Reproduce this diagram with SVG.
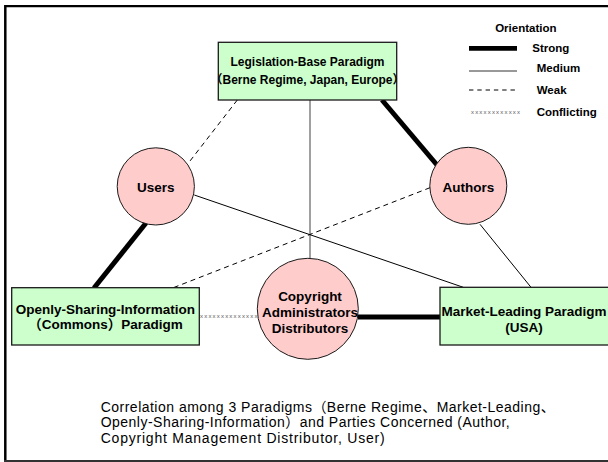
<svg xmlns="http://www.w3.org/2000/svg" width="608" height="462" viewBox="0 0 608 462">
  <style>
    text { font-family: "Liberation Sans", "Noto Sans CJK JP", Arial, sans-serif; fill: #000; }
    .lbl { font-weight: bold; font-size: 13.5px; text-anchor: middle; }
    .lbl12 { font-weight: bold; font-size: 12px; text-anchor: middle; }
    .leg { font-weight: bold; font-size: 11.5px; }
    .cap { font-size: 14px; }
    .xx { font-size: 6px; fill: #5a5a5a; }
    .box { fill: #CCFFCC; stroke: #1a1a1a; stroke-width: 1.3; }
    .party { fill: #FFCCCC; stroke: #1a1a1a; stroke-width: 1; }
    .strong { stroke: #000; stroke-width: 5; fill: none; }
    .medium { stroke: #000; stroke-width: 1; fill: none; }
    .weak { stroke: #000; stroke-width: 1; stroke-dasharray: 5 4; fill: none; }
    .vert { stroke: #808080; stroke-width: 1.5; fill: none; }
  </style>

  <!-- frame -->
  <g id="frame">
    <line x1="5.3" y1="6.2" x2="608" y2="6.2" stroke="#000" stroke-width="2.2"/>
    <line x1="5.3" y1="5" x2="5.3" y2="461" stroke="#000" stroke-width="2.5"/>
    <line x1="4" y1="461" x2="608" y2="461" stroke="#333" stroke-width="2"/>
  </g>

  <!-- connectors -->
  <g id="connectors">
    <line class="weak" x1="237.3" y1="100" x2="190" y2="161"/>
    <line class="strong" x1="382" y1="100" x2="437" y2="165"/>
    <line class="vert" x1="310" y1="100" x2="310" y2="258.5"/>
    <line class="strong" x1="146" y1="223" x2="94" y2="288"/>
    <line class="medium" x1="194.3" y1="195" x2="463.3" y2="287.3"/>
    <line class="weak" x1="430" y1="187.7" x2="173.3" y2="287.7"/>
    <line class="medium" x1="480" y1="224.3" x2="531" y2="287.3"/>
    <line class="strong" x1="358" y1="317" x2="440" y2="317"/>
    <text class="xx" x="200" y="318.4" textLength="57.5" lengthAdjust="spacing">xxxxxxxxxxxxxx</text>
  </g>

  <!-- nodes -->
  <g id="legislation">
    <rect class="box" x="218.3" y="42.3" width="178.4" height="57.7"/>
    <text class="lbl12" x="307.5" y="66">Legislation-Base Paradigm</text>
    <text class="lbl12" x="307.5" y="84.3">（Berne Regime, Japan, Europe）</text>
  </g>

  <g id="openly">
    <rect class="box" x="11.7" y="287.7" width="187.6" height="57.3"/>
    <text class="lbl" x="105.5" y="314">Openly-Sharing-Information</text>
    <text class="lbl" x="105.5" y="329.3">（Commons）Paradigm</text>
  </g>

  <g id="market">
    <rect class="box" x="440" y="287.3" width="172" height="57.7"/>
    <text class="lbl" x="524" y="315.7">Market-Leading Paradigm</text>
    <text class="lbl" x="524" y="331.7">(USA)</text>
  </g>

  <g id="users">
    <circle class="party" cx="155.8" cy="186.4" r="38.6"/>
    <text class="lbl" x="155.7" y="191.7">Users</text>
  </g>

  <g id="authors">
    <circle class="party" cx="468.3" cy="185.8" r="38.5"/>
    <text class="lbl" x="468.3" y="191.7">Authors</text>
  </g>

  <g id="copyright">
    <circle class="party" cx="307.8" cy="308.8" r="50.5"/>
    <text class="lbl" x="310" y="300.7">Copyright</text>
    <text class="lbl" x="310" y="316.7">Administrators</text>
    <text class="lbl" x="310" y="333.3">Distributors</text>
  </g>

  <!-- legend -->
  <g id="legend">
    <text class="leg" x="525.8" y="31.7" text-anchor="middle">Orientation</text>
    <line x1="469" y1="48.3" x2="517" y2="48.3" stroke="#000" stroke-width="4.7"/>
    <text class="leg" x="532.3" y="51.7">Strong</text>
    <line x1="469" y1="71" x2="517" y2="71" stroke="#333" stroke-width="1"/>
    <text class="leg" x="536.7" y="72.3">Medium</text>
    <line x1="469" y1="90" x2="517" y2="90" stroke="#000" stroke-width="1" stroke-dasharray="4.4 3.9"/>
    <text class="leg" x="536.7" y="94.3">Weak</text>
    <text class="xx" x="471" y="114.2" textLength="49" lengthAdjust="spacing">xxxxxxxxxxxx</text>
    <text class="leg" x="536.7" y="115.7">Conflicting</text>
  </g>

  <!-- caption -->
  <g id="caption">
    <text class="cap" x="100.7" y="411.7" textLength="454" lengthAdjust="spacing">Correlation among 3 Paradigms（Berne Regime、Market-Leading、</text>
    <text class="cap" x="100.7" y="427.3" textLength="409" lengthAdjust="spacing">Openly-Sharing-Information）and Parties Concerned (Author,</text>
    <text class="cap" x="100.7" y="443.3" textLength="284" lengthAdjust="spacing">Copyright Management Distributor, User)</text>
  </g>
</svg>
